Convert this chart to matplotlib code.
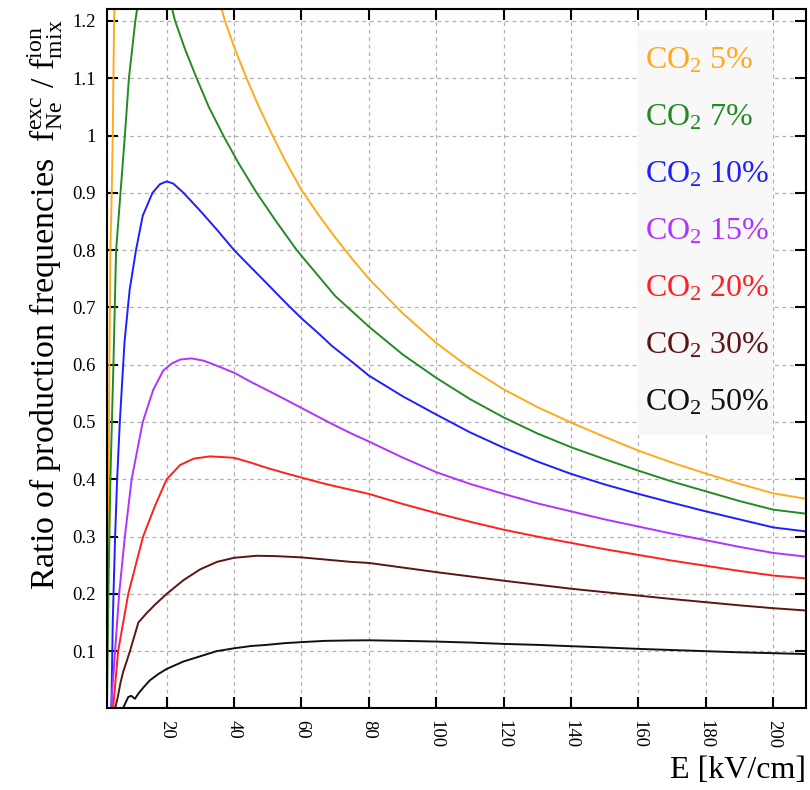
import matplotlib
matplotlib.use("Agg")
import matplotlib.pyplot as plt
from matplotlib.patches import Rectangle

plt.rcParams['font.family'] = ['Liberation Serif', 'DejaVu Serif']
plt.rcParams['mathtext.fontset'] = 'custom'
plt.rcParams['mathtext.rm'] = 'Liberation Serif'
plt.rcParams['mathtext.it'] = 'Liberation Serif:italic'

# valores (E em kV/cm, razao das frequencias)
e_co2_5 = [2.2, 2.5, 2.8, 3.0, 3.3, 3.7, 4.0, 4.4, 5.0, 6.5, 9, 13, 18, 24, 30, 34, 37.3, 40, 43.7,
           47, 51, 55, 60, 65, 70, 75, 80, 90, 100, 110, 120, 130, 140, 150, 160, 170, 180, 190, 200, 209.7]
r_co2_5 = [0.0, 0.2, 0.4, 0.6, 0.8, 0.9, 1.0, 1.2, 1.35, 1.55, 1.68, 1.72, 1.65, 1.5, 1.36, 1.27, 1.2,
           1.155, 1.1, 1.055, 1.005, 0.958, 0.905, 0.862, 0.822, 0.785, 0.75, 0.69, 0.638, 0.594,
           0.557, 0.526, 0.499, 0.474, 0.45, 0.429, 0.41, 0.392, 0.3755, 0.366]

e_co2_7 = [2.3, 2.7, 3.3, 4.2, 5.0, 6.3, 7.6, 8.8, 10.7, 12.5, 15, 17.5, 20, 22.5, 25.5, 28.9, 32.5,
           36.8, 41.5, 46.7, 52.5, 58.6, 65, 70, 80, 90, 100, 110, 120, 130, 140, 150, 160, 170,
           180, 190, 200, 209.7]
r_co2_7 = [0.0, 0.2, 0.4, 0.6, 0.8, 0.9, 1.0, 1.1, 1.2, 1.27, 1.31, 1.3, 1.26, 1.2, 1.15, 1.1, 1.05,
           1.0, 0.95, 0.9, 0.85, 0.8, 0.755, 0.72, 0.6665, 0.618, 0.577, 0.54, 0.508, 0.48, 0.456,
           0.435, 0.415, 0.396, 0.379, 0.362, 0.347, 0.34]

e_co2_10 = [3.6, 4.0, 4.7, 5.3, 6.1, 7.5, 9, 10.9, 12.9, 15.8, 18, 20, 22, 25, 29.9, 35, 40, 45,
            49.7, 55, 60, 65, 69, 75, 80, 90, 100, 110, 120, 130, 140, 150, 160, 170, 180, 190,
            200, 209.7]
r_co2_10 = [0.0, 0.15, 0.3, 0.4, 0.5, 0.64, 0.73, 0.8, 0.86, 0.9, 0.915, 0.92, 0.916, 0.9, 0.869,
            0.835, 0.8, 0.77, 0.742, 0.71, 0.681, 0.655, 0.633, 0.605, 0.581, 0.545, 0.513, 0.482,
            0.455, 0.431, 0.4094, 0.391, 0.3745, 0.359, 0.344, 0.33, 0.316, 0.309]

e_co2_15 = [3.5, 4.7, 5.9, 7.6, 9.6, 12.9, 16.0, 19, 21.5, 24, 27.4, 31, 35, 40, 45, 49.7, 55, 60,
            68.6, 74.4, 80, 90, 100, 110, 120, 130, 140, 150, 160, 170, 180, 190, 200, 209.7]
r_co2_15 = [0.0, 0.1, 0.2, 0.3, 0.4, 0.5, 0.556, 0.59, 0.602, 0.609, 0.611, 0.607, 0.598, 0.586,
            0.57, 0.556, 0.54, 0.5245, 0.498, 0.481, 0.466, 0.438, 0.4124, 0.392, 0.3745, 0.358,
            0.344, 0.33, 0.3175, 0.305, 0.2937, 0.282, 0.2715, 0.265]

e_co2_20 = [4.1, 5.6, 8.6, 13.0, 16.5, 20, 24, 28, 32.8, 36, 40, 45, 49.7, 55, 60, 67, 74.4, 80,
            90, 100, 110, 120, 130, 140, 150, 160, 170, 180, 190, 200, 209.7]
r_co2_20 = [0.0, 0.1, 0.2, 0.3, 0.353, 0.4, 0.425, 0.436, 0.44, 0.439, 0.4375, 0.429, 0.42, 0.411,
            0.403, 0.392, 0.382, 0.3745, 0.357, 0.341, 0.326, 0.312, 0.3, 0.289, 0.278, 0.268,
            0.258, 0.249, 0.24, 0.232, 0.227]

e_co2_30 = [4.7, 5.5, 6.3, 7.1, 8.0, 9.1, 10.5, 11.6, 14, 16.5, 20, 25, 30, 35, 40, 46.7, 52, 60,
            67, 74.4, 80, 90, 100, 110, 120, 130, 140, 150, 160, 170, 180, 190, 200, 209.7]
r_co2_30 = [0.0, 0.02, 0.045, 0.064, 0.08, 0.1, 0.128, 0.15, 0.166, 0.181, 0.2, 0.224, 0.243, 0.256,
            0.263, 0.2665, 0.266, 0.2637, 0.26, 0.256, 0.254, 0.246, 0.238, 0.2305, 0.223, 0.216,
            0.209, 0.203, 0.197, 0.191, 0.1855, 0.18, 0.175, 0.171]

e_co2_50 = [7.0, 8.6, 9.5, 10.6, 11.6, 13, 15, 17.5, 20, 25, 29.9, 34.8, 40, 45, 49.7, 55, 60, 67,
            74.4, 80, 90, 100, 110, 120, 130, 140, 150, 160, 170, 180, 190, 200, 209.7]
r_co2_50 = [0.0, 0.02, 0.022, 0.017, 0.026, 0.036, 0.049, 0.06, 0.069, 0.082, 0.091, 0.1, 0.105,
            0.109, 0.111, 0.114, 0.1158, 0.118, 0.1187, 0.119, 0.118, 0.1168, 0.115, 0.1127, 0.111,
            0.1087, 0.1065, 0.104, 0.102, 0.1, 0.098, 0.0965, 0.095]

labels = ['CO$_2$ 5%', 'CO$_2$ 7%', 'CO$_2$ 10%', 'CO$_2$ 15%', 'CO$_2$ 20%', 'CO$_2$ 30%', 'CO$_2$ 50%']
colors = ['#ffaa1d', '#238b23', '#1f1fff', '#b233ff', '#ff2020', '#5a1515', '#111111']
series = [(e_co2_5, r_co2_5), (e_co2_7, r_co2_7), (e_co2_10, r_co2_10), (e_co2_15, r_co2_15),
          (e_co2_20, r_co2_20), (e_co2_30, r_co2_30), (e_co2_50, r_co2_50)]

fig = plt.figure(figsize=(8.1, 7.9), dpi=100)
ax = fig.add_axes([0.1317, 0.1032, 0.8633, 0.8848])

lines = []
for (e, r), c, lab in zip(series, colors, labels):
    ln, = ax.plot(e, r, color=c, lw=1.4, label=lab)
    lines.append(ln)

ax.set_xlim(2.2, 209.7)
ax.set_ylim(0, 1.22)
ax.set_xticks(range(20, 201, 20))
ax.set_yticks([0.1, 0.2, 0.3, 0.4, 0.5, 0.6, 0.7, 0.8, 0.9, 1, 1.1, 1.2])
ax.set_yticklabels(['0.1', '0.2', '0.3', '0.4', '0.5', '0.6', '0.7', '0.8', '0.9', '1', '1.1', '1.2'])
ax.tick_params(direction='in', length=8, width=1.5, top=True, right=True, labelsize=13.5, pad=8)
plt.setp(ax.get_xticklabels(), rotation=-90)
ax.grid(True, color='#b0b0b0', linestyle=(0, (3, 3)), linewidth=0.9)
for s in ax.spines.values():
    s.set_linewidth(1.5)

# caixa cinza da legenda
box = Rectangle((638 / 810, 1 - 435 / 790), 135 / 810, 405 / 790, transform=fig.transFigure,
                facecolor='#f8f8f8', edgecolor='none', zorder=4.5)
ax.add_patch(box)

leg = ax.legend(handles=lines, loc='upper right', bbox_to_anchor=(769 / 810, 1 - 46 / 790),
                bbox_transform=fig.transFigure, borderaxespad=0, handlelength=0, handletextpad=0,
                labelcolor='linecolor', fontsize=23, frameon=False, borderpad=0,
                labelspacing=0.86)

fig.text(45 / 810, 1 - 590 / 790,
         r'Ratio of production frequencies  $\mathrm{f}^{\mathrm{exc}}_{\mathrm{Ne}}$ / $\mathrm{f}^{\mathrm{ion}}_{\mathrm{mix}}$',
         rotation=90, ha='center', va='bottom', fontsize=24.5)
fig.text(806 / 810, 1 - 770 / 790, 'E [kV/cm]', ha='right', va='center', fontsize=23)

fig.savefig('out.png', dpi=100)
